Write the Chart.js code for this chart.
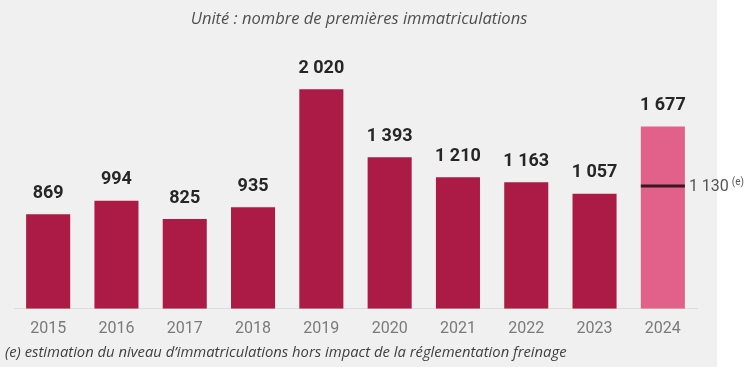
<!DOCTYPE html>
<html>
<head>
<meta charset="utf-8">
<script src="https://cdn.jsdelivr.net/npm/chart.js@4/dist/chart.umd.min.js"></script>
<style>
  html, body { margin: 0; padding: 0; background: #fff; }
  #wrap { width: 747px; height: 367px; }
</style>
</head>
<body>
<div id="wrap"><canvas id="graph"></canvas></div>
<script>
// donnees
var annees = ['2015', '2016', '2017', '2018', '2019', '2020', '2021', '2022', '2023', '2024'];
var immatriculations = [869, 994, 825, 935, 2020, 1393, 1210, 1163, 1057, 1677];
var estimation2024 = 1130;
var sousTitre = 'Unité : nombre de premières immatriculations';
var noteBas = '(e) estimation du niveau d\u2019immatriculations hors impact de la réglementation freinage';

var couleurs = annees.map(function (a) {
    return a === '2024' ? '#e1618a' : '#ab1b45';
});

function formatNombre(n) {
    return String(n).replace(/\B(?=(\d{3})+(?!\d))/g, ' ');
}

// fond gris + textes + etiquettes + trait d'estimation
var decor = {
    id: 'decor',
    beforeDraw: function (chart) {
        var c = chart.ctx;
        c.save();
        c.fillStyle = '#ffffff';
        c.fillRect(0, 0, chart.width, chart.height);
        c.fillStyle = '#f0f0f0';
        c.fillRect(0, 0, 717, chart.height);
        c.restore();
    },
    afterDatasetsDraw: function (chart) {
        var c = chart.ctx;
        var meta = chart.getDatasetMeta(0);
        c.save();
        c.textAlign = 'center';
        c.textBaseline = 'middle';
        c.fillStyle = '#262626';
        c.font = 'bold 18px Roboto';
        meta.data.forEach(function (bar, i) {
            c.fillText(formatNombre(immatriculations[i]), bar.x, bar.y - 21);
        });

        // trait 1 130 (e)
        var last = meta.data[meta.data.length - 1];
        var y = chart.scales.y.getPixelForValue(estimation2024);
        c.strokeStyle = '#3a1621';
        c.lineWidth = 3;
        c.beginPath();
        c.moveTo(last.x - last.width / 2, y);
        c.lineTo(last.x + last.width / 2, y);
        c.stroke();
        c.textAlign = 'left';
        c.fillStyle = '#555555';
        c.font = '16px Roboto';
        var t = formatNombre(estimation2024);
        var x0 = last.x + last.width / 2 + 4;
        c.fillText(t, x0, y + 1);
        var w = c.measureText(t).width;
        c.font = '10px Roboto';
        c.fillText('(e)', x0 + w + 3, y - 3);

        // textes
        c.font = 'italic 16.5px "Open Sans"';
        c.fillStyle = '#4f4f4f';
        c.textAlign = 'center';
        c.fillText(sousTitre, 359, 19);
        c.font = 'italic 14.8px "Open Sans"';
        c.fillStyle = '#404040';
        c.textAlign = 'left';
        c.fillText(noteBas, 5, 353);
        c.restore();
    }
};

new Chart(document.getElementById('graph'), {
    type: 'bar',
    data: {
        labels: annees,
        datasets: [{
            data: immatriculations,
            backgroundColor: couleurs,
            barPercentage: 0.645,
            categoryPercentage: 1
        }]
    },
    options: {
        responsive: true,
        maintainAspectRatio: false,
        animation: false,
        devicePixelRatio: 1,
        layout: { padding: { left: 14, right: 50, top: 0, bottom: 17 } },
        plugins: {
            legend: { display: false },
            tooltip: { enabled: false }
        },
        scales: {
            x: {
                grid: { display: false, drawTicks: false },
                border: { display: true, color: '#dcdcdc', width: 1 },
                ticks: {
                    color: '#7a7a7a',
                    font: { family: 'Roboto', size: 16 },
                    padding: 11
                }
            },
            y: {
                display: false,
                min: 0,
                max: 2840
            }
        }
    },
    plugins: [decor]
});
</script>
</body>
</html>
